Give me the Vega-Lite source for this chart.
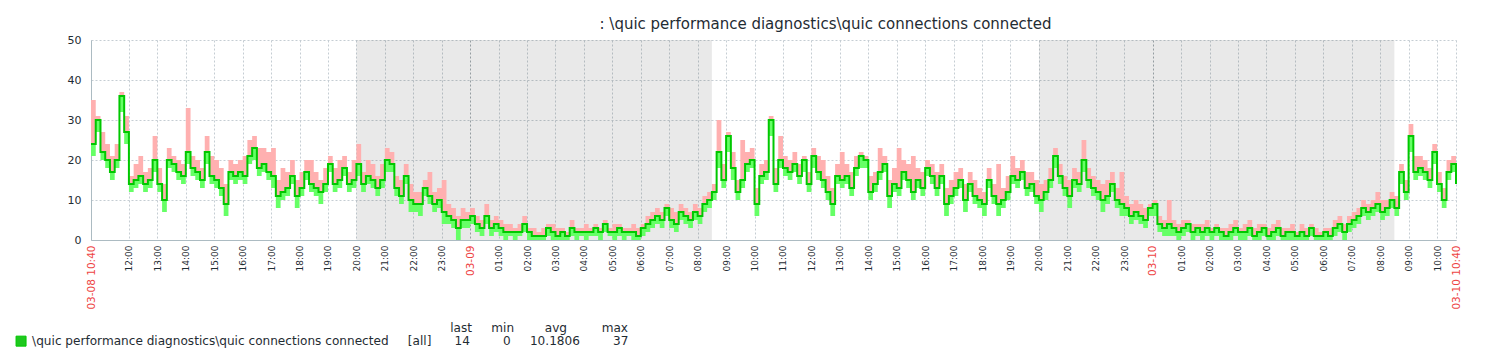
{
  "$schema": "https://vega.github.io/schema/vega-lite/v6.json",
  "width": 1365,
  "height": 200,
  "autosize": "none",
  "padding": {"left": 91, "top": 40, "right": 34, "bottom": 122},
  "background": "white",
  "title": {
    "text": ": \\quic performance diagnostics\\quic connections connected",
    "font": "DejaVu Sans",
    "fontSize": 15,
    "fontWeight": "normal",
    "color": "#1f2c33",
    "anchor": "middle",
    "frame": "group",
    "dx": 52,
    "offset": 2
  },
  "config": {
    "font": "DejaVu Sans",
    "view": {"stroke": null},
    "axis": {"domainColor": "#acbbc2", "gridDash": [2, 2], "ticks": false, "title": null}
  },
  "datasets": {
    "series": [
    {"t":640,"a":24,"lo":21,"hi":35},{"t":650,"a":30,"lo":27,"hi":31},{"t":660,"a":22,"lo":20,"hi":27},{"t":670,"a":20,"lo":18,"hi":24},{"t":680,"a":17,"lo":15,"hi":21},{"t":690,"a":20,"lo":18,"hi":24},
    {"t":700,"a":36,"lo":32,"hi":37},{"t":710,"a":27,"lo":24,"hi":31},{"t":720,"a":14,"lo":12,"hi":16},{"t":730,"a":15,"lo":13,"hi":19},{"t":740,"a":16,"lo":14,"hi":21},{"t":750,"a":14,"lo":12,"hi":17},
    {"t":760,"a":15,"lo":13,"hi":18},{"t":770,"a":20,"lo":17,"hi":26},{"t":780,"a":14,"lo":12,"hi":18},{"t":790,"a":10,"lo":7,"hi":14},{"t":800,"a":20,"lo":18,"hi":23},{"t":810,"a":19,"lo":17,"hi":21},
    {"t":820,"a":17,"lo":15,"hi":20},{"t":830,"a":16,"lo":14,"hi":19},{"t":840,"a":22,"lo":19,"hi":33},{"t":850,"a":18,"lo":16,"hi":21},{"t":860,"a":17,"lo":15,"hi":20},{"t":870,"a":15,"lo":13,"hi":18},
    {"t":880,"a":22,"lo":19,"hi":26},{"t":890,"a":16,"lo":14,"hi":21},{"t":900,"a":15,"lo":13,"hi":20},{"t":910,"a":13,"lo":11,"hi":18},{"t":920,"a":9,"lo":6,"hi":14},{"t":930,"a":17,"lo":15,"hi":20},
    {"t":940,"a":16,"lo":14,"hi":19},{"t":950,"a":17,"lo":15,"hi":20},{"t":960,"a":16,"lo":14,"hi":21},{"t":970,"a":21,"lo":19,"hi":25},{"t":980,"a":23,"lo":20,"hi":26},{"t":990,"a":18,"lo":16,"hi":23},
    {"t":1000,"a":19,"lo":17,"hi":23},{"t":1010,"a":17,"lo":15,"hi":22},{"t":1020,"a":16,"lo":13,"hi":23},{"t":1030,"a":11,"lo":8,"hi":15},{"t":1040,"a":12,"lo":10,"hi":18},{"t":1050,"a":13,"lo":11,"hi":17},
    {"t":1060,"a":16,"lo":14,"hi":20},{"t":1070,"a":11,"lo":8,"hi":15},{"t":1080,"a":13,"lo":11,"hi":17},{"t":1090,"a":17,"lo":15,"hi":20},{"t":1100,"a":14,"lo":12,"hi":20},{"t":1110,"a":13,"lo":11,"hi":17},
    {"t":1120,"a":12,"lo":9,"hi":15},{"t":1130,"a":14,"lo":12,"hi":18},{"t":1140,"a":19,"lo":17,"hi":21},{"t":1150,"a":14,"lo":12,"hi":18},{"t":1160,"a":15,"lo":13,"hi":20},{"t":1170,"a":18,"lo":16,"hi":21},
    {"t":1180,"a":14,"lo":12,"hi":17},{"t":1190,"a":15,"lo":13,"hi":20},{"t":1200,"a":19,"lo":16,"hi":24},{"t":1210,"a":14,"lo":12,"hi":17},{"t":1220,"a":16,"lo":14,"hi":20},{"t":1230,"a":15,"lo":13,"hi":19},
    {"t":1240,"a":13,"lo":11,"hi":16},{"t":1250,"a":15,"lo":13,"hi":19},{"t":1260,"a":20,"lo":17,"hi":23},{"t":1270,"a":19,"lo":17,"hi":22},{"t":1280,"a":13,"lo":11,"hi":16},{"t":1290,"a":11,"lo":9,"hi":15},
    {"t":1300,"a":16,"lo":14,"hi":19},{"t":1310,"a":10,"lo":7,"hi":14},{"t":1320,"a":9,"lo":7,"hi":12},{"t":1330,"a":9,"lo":6,"hi":12},{"t":1340,"a":13,"lo":11,"hi":15},{"t":1350,"a":11,"lo":9,"hi":17},
    {"t":1360,"a":9,"lo":7,"hi":12},{"t":1370,"a":10,"lo":8,"hi":13},{"t":1380,"a":7,"lo":4,"hi":15},{"t":1390,"a":6,"lo":4,"hi":9},{"t":1400,"a":5,"lo":3,"hi":8},{"t":1410,"a":3,"lo":0,"hi":6},
    {"t":1420,"a":5,"lo":3,"hi":8},{"t":1430,"a":5,"lo":3,"hi":7},{"t":1440,"a":6,"lo":4,"hi":8},{"t":1450,"a":4,"lo":2,"hi":6},{"t":1460,"a":3,"lo":1,"hi":5},{"t":1470,"a":6,"lo":4,"hi":9},
    {"t":1480,"a":3,"lo":1,"hi":5},{"t":1490,"a":4,"lo":2,"hi":6},{"t":1500,"a":3,"lo":1,"hi":5},{"t":1510,"a":2,"lo":0,"hi":4},{"t":1520,"a":2,"lo":1,"hi":4},{"t":1530,"a":2,"lo":0,"hi":3},
    {"t":1540,"a":2,"lo":1,"hi":4},{"t":1550,"a":4,"lo":2,"hi":6},{"t":1560,"a":2,"lo":0,"hi":3},{"t":1570,"a":1,"lo":0,"hi":3},{"t":1580,"a":1,"lo":0,"hi":2},{"t":1590,"a":1,"lo":0,"hi":3},
    {"t":1600,"a":3,"lo":1,"hi":4},{"t":1610,"a":2,"lo":0,"hi":4},{"t":1620,"a":1,"lo":0,"hi":3},{"t":1630,"a":2,"lo":0,"hi":3},{"t":1640,"a":1,"lo":0,"hi":2},{"t":1650,"a":3,"lo":1,"hi":5},
    {"t":1660,"a":2,"lo":0,"hi":3},{"t":1670,"a":2,"lo":1,"hi":3},{"t":1680,"a":2,"lo":0,"hi":4},{"t":1690,"a":2,"lo":1,"hi":3},{"t":1700,"a":3,"lo":1,"hi":4},{"t":1710,"a":2,"lo":0,"hi":3},
    {"t":1720,"a":4,"lo":2,"hi":5},{"t":1730,"a":2,"lo":1,"hi":3},{"t":1740,"a":2,"lo":0,"hi":4},{"t":1750,"a":3,"lo":1,"hi":4},{"t":1760,"a":2,"lo":0,"hi":3},{"t":1770,"a":2,"lo":1,"hi":3},
    {"t":1780,"a":2,"lo":0,"hi":4},{"t":1790,"a":1,"lo":0,"hi":3},{"t":1800,"a":3,"lo":1,"hi":4},{"t":1810,"a":4,"lo":2,"hi":6},{"t":1820,"a":5,"lo":3,"hi":7},{"t":1830,"a":6,"lo":4,"hi":8},
    {"t":1840,"a":5,"lo":3,"hi":7},{"t":1850,"a":8,"lo":6,"hi":9},{"t":1860,"a":5,"lo":3,"hi":8},{"t":1870,"a":4,"lo":2,"hi":7},{"t":1880,"a":7,"lo":5,"hi":9},{"t":1890,"a":6,"lo":4,"hi":8},
    {"t":1900,"a":5,"lo":3,"hi":7},{"t":1910,"a":7,"lo":5,"hi":9},{"t":1920,"a":6,"lo":4,"hi":8},{"t":1930,"a":9,"lo":7,"hi":11},{"t":1940,"a":10,"lo":8,"hi":12},{"t":1950,"a":12,"lo":10,"hi":14},
    {"t":1960,"a":22,"lo":18,"hi":30},{"t":1970,"a":15,"lo":13,"hi":19},{"t":1980,"a":26,"lo":22,"hi":27},{"t":1990,"a":18,"lo":15,"hi":22},{"t":2000,"a":12,"lo":10,"hi":15},{"t":2010,"a":15,"lo":13,"hi":25},
    {"t":2020,"a":19,"lo":17,"hi":22},{"t":2030,"a":20,"lo":18,"hi":23},{"t":2040,"a":9,"lo":6,"hi":13},{"t":2050,"a":16,"lo":14,"hi":19},{"t":2060,"a":17,"lo":15,"hi":20},{"t":2070,"a":30,"lo":26,"hi":31},
    {"t":2080,"a":14,"lo":12,"hi":18},{"t":2090,"a":20,"lo":18,"hi":26},{"t":2100,"a":18,"lo":16,"hi":21},{"t":2110,"a":17,"lo":15,"hi":20},{"t":2120,"a":19,"lo":17,"hi":22},{"t":2130,"a":16,"lo":14,"hi":19},
    {"t":2140,"a":20,"lo":17,"hi":21},{"t":2150,"a":14,"lo":12,"hi":17},{"t":2160,"a":21,"lo":18,"hi":23},{"t":2170,"a":17,"lo":15,"hi":21},{"t":2180,"a":15,"lo":13,"hi":20},{"t":2190,"a":12,"lo":10,"hi":16},
    {"t":2200,"a":9,"lo":6,"hi":13},{"t":2210,"a":16,"lo":14,"hi":19},{"t":2220,"a":15,"lo":13,"hi":22},{"t":2230,"a":16,"lo":14,"hi":19},{"t":2240,"a":13,"lo":11,"hi":17},{"t":2250,"a":18,"lo":16,"hi":21},
    {"t":2260,"a":21,"lo":18,"hi":22},{"t":2270,"a":20,"lo":18,"hi":21},{"t":2280,"a":12,"lo":10,"hi":16},{"t":2290,"a":14,"lo":12,"hi":17},{"t":2300,"a":17,"lo":15,"hi":23},{"t":2310,"a":19,"lo":17,"hi":21},
    {"t":2320,"a":11,"lo":8,"hi":15},{"t":2330,"a":14,"lo":12,"hi":18},{"t":2340,"a":13,"lo":11,"hi":23},{"t":2350,"a":17,"lo":15,"hi":20},{"t":2360,"a":15,"lo":13,"hi":19},{"t":2370,"a":12,"lo":10,"hi":21},
    {"t":2380,"a":15,"lo":13,"hi":18},{"t":2390,"a":13,"lo":11,"hi":17},{"t":2400,"a":18,"lo":16,"hi":20},{"t":2410,"a":16,"lo":14,"hi":19},{"t":2420,"a":13,"lo":11,"hi":17},{"t":2430,"a":16,"lo":14,"hi":19},
    {"t":2440,"a":9,"lo":6,"hi":13},{"t":2450,"a":11,"lo":9,"hi":15},{"t":2460,"a":13,"lo":11,"hi":17},{"t":2470,"a":15,"lo":13,"hi":18},{"t":2480,"a":10,"lo":7,"hi":14},{"t":2490,"a":14,"lo":12,"hi":17},
    {"t":2500,"a":11,"lo":9,"hi":15},{"t":2510,"a":10,"lo":8,"hi":13},{"t":2520,"a":9,"lo":6,"hi":12},{"t":2530,"a":15,"lo":13,"hi":18},{"t":2540,"a":11,"lo":9,"hi":14},{"t":2550,"a":9,"lo":6,"hi":19},
    {"t":2560,"a":10,"lo":8,"hi":13},{"t":2570,"a":12,"lo":10,"hi":16},{"t":2580,"a":16,"lo":14,"hi":21},{"t":2590,"a":15,"lo":13,"hi":18},{"t":2600,"a":17,"lo":15,"hi":20},{"t":2610,"a":13,"lo":11,"hi":17},
    {"t":2620,"a":14,"lo":12,"hi":17},{"t":2630,"a":11,"lo":9,"hi":15},{"t":2640,"a":10,"lo":7,"hi":14},{"t":2650,"a":12,"lo":10,"hi":15},{"t":2660,"a":15,"lo":13,"hi":18},{"t":2670,"a":21,"lo":18,"hi":23},
    {"t":2680,"a":16,"lo":14,"hi":19},{"t":2690,"a":13,"lo":11,"hi":16},{"t":2700,"a":11,"lo":8,"hi":15},{"t":2710,"a":15,"lo":13,"hi":18},{"t":2720,"a":14,"lo":12,"hi":17},{"t":2730,"a":20,"lo":17,"hi":25},
    {"t":2740,"a":15,"lo":13,"hi":18},{"t":2750,"a":13,"lo":11,"hi":16},{"t":2760,"a":12,"lo":10,"hi":15},{"t":2770,"a":10,"lo":7,"hi":14},{"t":2780,"a":11,"lo":9,"hi":15},{"t":2790,"a":14,"lo":12,"hi":17},
    {"t":2800,"a":10,"lo":8,"hi":13},{"t":2810,"a":9,"lo":6,"hi":17},{"t":2820,"a":8,"lo":6,"hi":11},{"t":2830,"a":6,"lo":4,"hi":9},{"t":2840,"a":7,"lo":5,"hi":10},{"t":2850,"a":6,"lo":4,"hi":9},
    {"t":2860,"a":5,"lo":3,"hi":8},{"t":2870,"a":8,"lo":6,"hi":9},{"t":2880,"a":9,"lo":6,"hi":10},{"t":2890,"a":4,"lo":2,"hi":6},{"t":2900,"a":3,"lo":1,"hi":5},{"t":2910,"a":4,"lo":1,"hi":10},
    {"t":2920,"a":3,"lo":1,"hi":5},{"t":2930,"a":2,"lo":0,"hi":4},{"t":2940,"a":3,"lo":1,"hi":5},{"t":2950,"a":4,"lo":2,"hi":5},{"t":2960,"a":2,"lo":0,"hi":4},{"t":2970,"a":3,"lo":1,"hi":4},
    {"t":2980,"a":2,"lo":0,"hi":4},{"t":2990,"a":3,"lo":1,"hi":5},{"t":3000,"a":2,"lo":0,"hi":3},{"t":3010,"a":3,"lo":1,"hi":4},{"t":3020,"a":2,"lo":0,"hi":3},{"t":3030,"a":1,"lo":0,"hi":3},
    {"t":3040,"a":2,"lo":0,"hi":4},{"t":3050,"a":3,"lo":1,"hi":5},{"t":3060,"a":2,"lo":0,"hi":3},{"t":3070,"a":2,"lo":0,"hi":4},{"t":3080,"a":3,"lo":1,"hi":5},{"t":3090,"a":1,"lo":0,"hi":3},
    {"t":3100,"a":2,"lo":0,"hi":4},{"t":3110,"a":3,"lo":1,"hi":4},{"t":3120,"a":1,"lo":0,"hi":3},{"t":3130,"a":2,"lo":0,"hi":4},{"t":3140,"a":3,"lo":1,"hi":5},{"t":3150,"a":1,"lo":0,"hi":3},
    {"t":3160,"a":2,"lo":0,"hi":3},{"t":3170,"a":2,"lo":0,"hi":4},{"t":3180,"a":1,"lo":0,"hi":2},{"t":3190,"a":2,"lo":0,"hi":4},{"t":3200,"a":1,"lo":0,"hi":3},{"t":3210,"a":3,"lo":1,"hi":4},
    {"t":3220,"a":1,"lo":0,"hi":3},{"t":3230,"a":1,"lo":0,"hi":2},{"t":3240,"a":2,"lo":0,"hi":3},{"t":3250,"a":1,"lo":0,"hi":3},{"t":3260,"a":3,"lo":1,"hi":5},{"t":3270,"a":4,"lo":2,"hi":6},
    {"t":3280,"a":2,"lo":0,"hi":4},{"t":3290,"a":4,"lo":2,"hi":6},{"t":3300,"a":5,"lo":3,"hi":7},{"t":3310,"a":6,"lo":4,"hi":8},{"t":3320,"a":8,"lo":6,"hi":10},{"t":3330,"a":7,"lo":5,"hi":9},
    {"t":3340,"a":8,"lo":6,"hi":10},{"t":3350,"a":9,"lo":7,"hi":12},{"t":3360,"a":7,"lo":5,"hi":10},{"t":3370,"a":8,"lo":6,"hi":10},{"t":3380,"a":10,"lo":8,"hi":12},{"t":3390,"a":8,"lo":6,"hi":11},
    {"t":3400,"a":17,"lo":14,"hi":19},{"t":3410,"a":12,"lo":10,"hi":15},{"t":3420,"a":26,"lo":22,"hi":29},{"t":3430,"a":17,"lo":15,"hi":21},{"t":3440,"a":18,"lo":16,"hi":21},{"t":3450,"a":17,"lo":15,"hi":20},
    {"t":3460,"a":15,"lo":13,"hi":18},{"t":3470,"a":22,"lo":19,"hi":24},{"t":3480,"a":14,"lo":12,"hi":17},{"t":3490,"a":10,"lo":8,"hi":13},{"t":3500,"a":17,"lo":15,"hi":20},{"t":3510,"a":19,"lo":17,"hi":21},
    {"t":3520,"a":14,"lo":12,"hi":16}
    ],
    "nights": [{"t": 1200, "t2": 1950}, {"t": 2640, "t2": 3390}]
  },
  "data": {"name": "series"},
  "encoding": {
    "x": {
      "field": "t", "type": "quantitative", "title": null,
      "scale": {"domain": [640, 3520], "nice": false, "zero": false},
      "axis": {
        "values": [640,720,780,840,900,960,1020,1080,1140,1200,1260,1320,1380,1440,1500,1560,1620,1680,1740,1800,1860,1920,1980,2040,2100,2160,2220,2280,2340,2400,2460,2520,2580,2640,2700,2760,2820,2880,2940,3000,3060,3120,3180,3240,3300,3360,3420,3480,3520],
        "labelExpr": "datum.value == 640 ? '03-08 10:40' : datum.value == 3520 ? '03-10 10:40' : datum.value == 1440 ? '03-09' : datum.value == 2880 ? '03-10' : ((floor(datum.value / 60) % 24) < 10 ? '0' : '') + (floor(datum.value / 60) % 24) + ':00'",
        "labelAngle": 270,
        "labelAlign": "right",
        "labelBaseline": "middle",
        "labelPadding": 5,
        "labelFlush": false,
        "labelOverlap": false,
        "labelBound": false,
        "labelFont": "DejaVu Sans",
        "labelFontSize": {"condition": {"test": "datum.value % 1440 == 0 || datum.value == 640 || datum.value == 3520", "value": 10.5}, "value": 9},
        "labelColor": {"condition": {"test": "datum.value % 1440 == 0 || datum.value == 640 || datum.value == 3520", "value": "#ee4444"}, "value": "#1f2c33"},
        "grid": true,
        "gridColor": {"condition": {"test": "datum.value % 1440 == 0", "value": "#a3acb1"}, "value": "#c5cdd3"},
        "gridDash": [2, 2]
      }
    },
    "y": {
      "field": "a", "type": "quantitative", "title": null,
      "scale": {"domain": [0, 50], "nice": false},
      "axis": {
        "values": [0, 10, 20, 30, 40, 50],
        "labelFontSize": 11,
        "labelColor": "#1f2c33",
        "labelPadding": 10,
        "labelOverlap": false,
        "grid": true,
        "gridColor": "#c5cdd3",
        "gridDash": [2, 2]
      }
    }
  },
  "layer": [
    {
      "data": {"name": "nights"},
      "mark": {"type": "rect", "color": "#000000", "opacity": 0.088},
      "encoding": {
        "x2": {"field": "t2"},
        "y": null
      }
    },
    {
      "mark": {"type": "area", "interpolate": "step-after", "color": "#ffb0b0"},
      "encoding": {"y2": {"field": "hi"}}
    },
    {
      "mark": {"type": "area", "interpolate": "step-after", "color": "#66ff66"},
      "encoding": {
        "y": {"field": "lo"},
        "y2": {"field": "a"}
      }
    },
    {
      "mark": {"type": "line", "interpolate": "step-after", "strokeWidth": 2},
      "encoding": {
        "color": {
          "datum": "\\quic performance diagnostics\\quic connections connected\u00a0\u00a0\u00a0\u00a0\u00a0[all]\u00a0\u00a0\u00a0\u00a0\u00a0\u00a014\u00a0\u00a0\u00a0\u00a0\u00a0\u00a0\u00a0\u00a0\u20090\u00a0\u00a0\u00a0\u00a0\u00a010.1806\u00a0\u00a0\u00a0\u00a0\u00a0\u00a0\u00a0\u00a0\u200937",
          "scale": {"range": ["#00c800"]},
          "legend": {
            "orient": "none",
            "legendX": -76,
            "legendY": 282,
            "padding": 0,
            "title": "last\u00a0\u00a0\u00a0\u00a0\u00a0min\u00a0\u00a0\u00a0\u00a0\u00a0\u00a0\u00a0\u00a0avg\u00a0\u00a0\u00a0\u00a0\u00a0\u00a0\u00a0\u00a0\u00a0max",
            "titleAnchor": "end",
            "titleFont": "DejaVu Sans",
            "titleFontSize": 12.1,
            "titleFontWeight": "normal",
            "titleColor": "#1f2c33",
            "titlePadding": 1,
            "titleLimit": 0,
            "labelFont": "DejaVu Sans",
            "labelFontSize": 12.1,
            "labelColor": "#1f2c33",
            "labelLimit": 0,
            "labelOffset": 5,
            "symbolType": "square",
            "symbolSize": 100,
            "symbolOffset": 0,
            "encode": {"symbols": {"update": {"fill": {"value": "#1ec81e"}, "stroke": {"value": "#2b2b2b"}, "strokeWidth": {"value": 1}, "opacity": {"value": 1}}}}
          }
        }
      }
    }
  ]
}
